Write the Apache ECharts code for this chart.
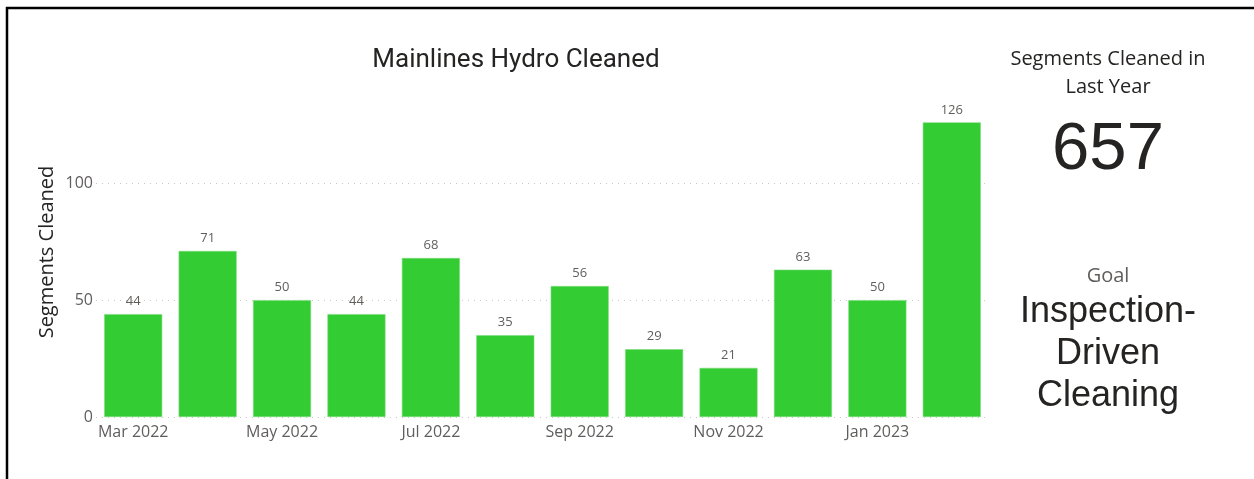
<!DOCTYPE html>
<html>
<head>
<meta charset="utf-8">
<script src="https://cdn.jsdelivr.net/npm/echarts@6/dist/echarts.min.js"></script>
<style>
  html,body{margin:0;padding:0;background:#fff;}
  #main{width:1254px;height:479px;}
</style>
</head>
<body>
<div id="main"></div>
<script>
var months = ['Mar 2022','Apr 2022','May 2022','Jun 2022','Jul 2022','Aug 2022','Sep 2022','Oct 2022','Nov 2022','Dec 2022','Jan 2023','Feb 2023'];
var cleaned = [44,71,50,44,68,35,56,29,21,63,50,126];
var yTicks = [0,50,100];
var cardTitle = ['Segments Cleaned in','Last Year'];
var cardValue = '657';
var goalTitle = 'Goal';
var goalText = ['Inspection-','Driven','Cleaning'];

var uiFont = '"Open Sans", "Noto Sans", sans-serif';
var bigFont = '"Liberation Sans", Arial, sans-serif';
var myChart = echarts.init(document.getElementById('main'));
var option = {
    backgroundColor: '#fff',
    animation: false,
    title: {
        text: 'Mainlines Hydro Cleaned',
        left: 511,
        textAlign: 'center',
        top: 42,
        textStyle: {fontFamily: 'Roboto', fontWeight: 'normal', fontSize: 26, color: '#252423'}
    },
    grid: {left: 96, right: 265, top: 113, bottom: 62},
    xAxis: {
        type: 'category',
        data: months,
        axisLine: {show: false},
        axisTick: {show: false},
        axisLabel: {
            interval: 1,
            color: '#605e5c',
            fontFamily: uiFont,
            fontSize: 16,
            margin: 7
        }
    },
    yAxis: {
        type: 'value',
        min: 0,
        max: 130,
        interval: 50,
        axisLine: {show: false},
        axisTick: {show: false},
        axisLabel: {
            color: '#605e5c',
            fontFamily: uiFont,
            fontSize: 16,
            margin: 3,
            showMaxLabel: false,
            formatter: function(v){ return yTicks.indexOf(v) >= 0 ? String(v) : ''; }
        },
        splitLine: {
            showMaxLine: false,
            lineStyle: {type: [1, 5], color: '#c8c6c4', width: 1}
        }
    },
    series: [{
        type: 'bar',
        data: cleaned,
        barCategoryGap: '22%',
        itemStyle: {color: '#33cc33', borderColor: '#7ddc7d', borderWidth: 0.6},
        label: {
            show: true,
            position: 'top',
            distance: 6,
            color: '#605e5c',
            fontFamily: uiFont,
            fontSize: 13
        }
    }],
    graphic: [
        {type: 'line', shape: {x1: 6, y1: 8, x2: 1254, y2: 8}, style: {stroke: '#000', lineWidth: 2.5}},
        {type: 'line', shape: {x1: 7, y1: 7, x2: 7, y2: 479}, style: {stroke: '#000', lineWidth: 2.5}},
        {type: 'text', x: 47, y: 252, rotation: Math.PI / 2,
            style: {text: 'Segments Cleaned', font: '20px ' + uiFont, fill: '#252423', align: 'center', verticalAlign: 'middle'}},
        {type: 'text', x: 1108, y: 59,
            style: {text: cardTitle[0], font: '20px ' + uiFont, fill: '#252423', align: 'center', verticalAlign: 'middle'}},
        {type: 'text', x: 1108, y: 87,
            style: {text: cardTitle[1], font: '20px ' + uiFont, fill: '#252423', align: 'center', verticalAlign: 'middle'}},
        {type: 'text', x: 1108, y: 151,
            style: {text: cardValue, font: '67px ' + bigFont, fill: '#252423', align: 'center', verticalAlign: 'middle'}},
        {type: 'text', x: 1108, y: 276,
            style: {text: goalTitle, font: '20px ' + uiFont, fill: '#605e5c', align: 'center', verticalAlign: 'middle'}},
        {type: 'text', x: 1108, y: 312,
            style: {text: goalText[0], font: '36px ' + bigFont, fill: '#252423', align: 'center', verticalAlign: 'middle'}},
        {type: 'text', x: 1108, y: 354,
            style: {text: goalText[1], font: '36px ' + bigFont, fill: '#252423', align: 'center', verticalAlign: 'middle'}},
        {type: 'text', x: 1108, y: 396,
            style: {text: goalText[2], font: '36px ' + bigFont, fill: '#252423', align: 'center', verticalAlign: 'middle'}}
    ]
};
myChart.setOption(option);
</script>
</body>
</html>
